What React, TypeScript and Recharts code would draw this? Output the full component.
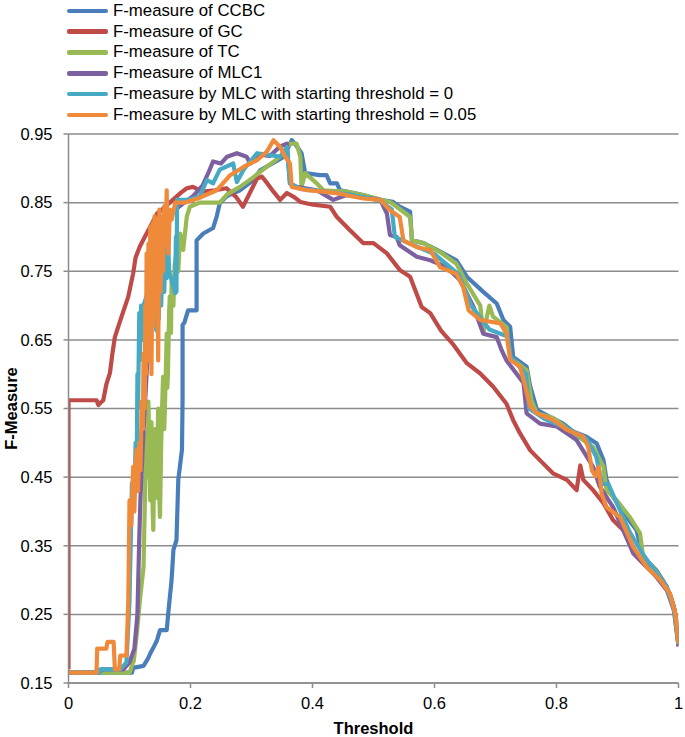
import { LineChart, Line, XAxis, YAxis, CartesianGrid } from 'recharts';

// [threshold, f-measure]
const ccbc: [number, number][] = [
  [0, 0.165], [0.104, 0.165], [0.106, 0.172], [0.123, 0.175], [0.13, 0.185], [0.134, 0.193],
  [0.14, 0.203], [0.145, 0.212], [0.15, 0.227], [0.161, 0.227], [0.164, 0.256], [0.169, 0.3],
  [0.172, 0.344], [0.177, 0.358], [0.18, 0.446], [0.186, 0.49], [0.187, 0.562], [0.187, 0.672],
  [0.19, 0.675], [0.196, 0.693], [0.21, 0.693], [0.21, 0.795], [0.221, 0.805], [0.237, 0.813],
  [0.243, 0.83], [0.248, 0.849], [0.259, 0.859], [0.281, 0.868], [0.303, 0.883], [0.314, 0.897],
  [0.33, 0.905], [0.35, 0.915], [0.36, 0.93], [0.366, 0.941], [0.372, 0.935], [0.382, 0.922],
  [0.388, 0.893], [0.412, 0.89], [0.423, 0.89], [0.429, 0.878], [0.44, 0.878], [0.445, 0.868],
  [0.456, 0.866], [0.483, 0.861], [0.511, 0.854], [0.532, 0.851], [0.543, 0.844], [0.56, 0.837],
  [0.563, 0.795], [0.582, 0.791], [0.604, 0.781], [0.636, 0.766], [0.653, 0.742], [0.68, 0.72],
  [0.702, 0.703], [0.713, 0.679], [0.724, 0.669], [0.729, 0.625], [0.751, 0.611], [0.757, 0.582],
  [0.768, 0.548], [0.789, 0.538], [0.811, 0.528], [0.828, 0.516], [0.849, 0.509], [0.866, 0.499],
  [0.877, 0.475], [0.882, 0.446], [0.893, 0.421], [0.915, 0.392], [0.931, 0.373], [0.942, 0.334],
  [0.964, 0.314], [0.981, 0.29], [0.991, 0.266], [0.997, 0.24], [1, 0.207],
];

const gc: [number, number][] = [
  [0, 0.17], [0, 0.562], [0.046, 0.562], [0.049, 0.555], [0.052, 0.558], [0.057, 0.562],
  [0.062, 0.585], [0.068, 0.602], [0.072, 0.63], [0.076, 0.654], [0.087, 0.684], [0.098, 0.713],
  [0.106, 0.747], [0.11, 0.77], [0.117, 0.786], [0.125, 0.8], [0.134, 0.815], [0.145, 0.834],
  [0.16, 0.845], [0.171, 0.854], [0.185, 0.865], [0.194, 0.871], [0.204, 0.873], [0.22, 0.866],
  [0.24, 0.868], [0.259, 0.871], [0.275, 0.858], [0.286, 0.844], [0.295, 0.86], [0.309, 0.885],
  [0.317, 0.888], [0.326, 0.878], [0.336, 0.866], [0.347, 0.854], [0.358, 0.864], [0.37, 0.858],
  [0.38, 0.851], [0.401, 0.847], [0.429, 0.844], [0.44, 0.829], [0.461, 0.81], [0.483, 0.791],
  [0.5, 0.791], [0.522, 0.776], [0.543, 0.752], [0.56, 0.742], [0.579, 0.698], [0.593, 0.689],
  [0.611, 0.663], [0.631, 0.643], [0.653, 0.616], [0.675, 0.601], [0.696, 0.582], [0.718, 0.557],
  [0.729, 0.533], [0.74, 0.514], [0.757, 0.489], [0.778, 0.47], [0.795, 0.455], [0.817, 0.446],
  [0.833, 0.431], [0.839, 0.467], [0.844, 0.446], [0.86, 0.431], [0.877, 0.412], [0.893, 0.387],
  [0.915, 0.368], [0.926, 0.339], [0.948, 0.319], [0.97, 0.3], [0.986, 0.28], [0.994, 0.256],
  [1, 0.203],
];

const tc: [number, number][] = [
  [0, 0.165], [0.1, 0.165], [0.104, 0.175], [0.107, 0.182], [0.112, 0.222], [0.117, 0.27],
  [0.123, 0.319], [0.126, 0.45], [0.128, 0.514], [0.13, 0.45], [0.131, 0.56], [0.133, 0.47],
  [0.134, 0.416], [0.136, 0.53], [0.138, 0.4], [0.139, 0.373], [0.141, 0.5], [0.142, 0.52],
  [0.144, 0.42], [0.145, 0.465], [0.147, 0.55], [0.148, 0.44], [0.15, 0.392], [0.152, 0.5],
  [0.153, 0.538], [0.155, 0.596], [0.157, 0.52], [0.158, 0.55], [0.16, 0.62], [0.161, 0.659],
  [0.162, 0.58], [0.163, 0.6], [0.165, 0.69], [0.166, 0.713], [0.168, 0.66], [0.169, 0.737],
  [0.172, 0.7], [0.174, 0.76], [0.177, 0.776], [0.18, 0.75], [0.183, 0.805], [0.188, 0.781],
  [0.194, 0.83], [0.199, 0.844], [0.215, 0.85], [0.248, 0.85], [0.26, 0.862], [0.281, 0.873],
  [0.3, 0.885], [0.319, 0.898], [0.347, 0.917], [0.363, 0.936], [0.374, 0.936], [0.38, 0.917],
  [0.382, 0.873], [0.388, 0.893], [0.407, 0.878], [0.418, 0.868], [0.456, 0.866], [0.483, 0.861],
  [0.527, 0.851], [0.538, 0.844], [0.56, 0.829], [0.563, 0.795], [0.582, 0.791], [0.609, 0.778],
  [0.636, 0.761], [0.653, 0.732], [0.675, 0.7], [0.68, 0.66], [0.69, 0.7], [0.696, 0.684],
  [0.718, 0.669], [0.724, 0.625], [0.751, 0.606], [0.759, 0.562], [0.768, 0.543], [0.795, 0.536],
  [0.828, 0.514], [0.86, 0.494], [0.877, 0.465], [0.882, 0.431], [0.899, 0.416], [0.92, 0.392],
  [0.937, 0.368], [0.942, 0.334], [0.964, 0.312], [0.981, 0.288], [0.991, 0.264], [1, 0.205],
];

const mlc1: [number, number][] = [
  [0, 0.165], [0.05, 0.165], [0.055, 0.17], [0.09, 0.17], [0.1, 0.18], [0.108, 0.2],
  [0.113, 0.25], [0.116, 0.36], [0.118, 0.42], [0.122, 0.5], [0.128, 0.6], [0.134, 0.7],
  [0.14, 0.76], [0.15, 0.8], [0.16, 0.83], [0.175, 0.84], [0.19, 0.85], [0.205, 0.86],
  [0.22, 0.875], [0.23, 0.895], [0.237, 0.91], [0.25, 0.907], [0.26, 0.917], [0.276, 0.922],
  [0.292, 0.917], [0.298, 0.907], [0.314, 0.92], [0.33, 0.918], [0.347, 0.932], [0.358, 0.936],
  [0.363, 0.878], [0.374, 0.873], [0.407, 0.868], [0.434, 0.854], [0.456, 0.861], [0.511, 0.854],
  [0.522, 0.834], [0.527, 0.803], [0.538, 0.8], [0.543, 0.788], [0.571, 0.771], [0.593, 0.766],
  [0.62, 0.756], [0.642, 0.737], [0.664, 0.698], [0.68, 0.659], [0.702, 0.654], [0.71, 0.635],
  [0.718, 0.62], [0.746, 0.587], [0.751, 0.543], [0.773, 0.528], [0.8, 0.524], [0.833, 0.504],
  [0.86, 0.465], [0.871, 0.436], [0.893, 0.406], [0.926, 0.339], [0.959, 0.31], [0.981, 0.285],
  [0.993, 0.255], [1, 0.204],
];

const mlcStart0: [number, number][] = [
  [0, 0.165], [0.05, 0.165], [0.052, 0.17], [0.085, 0.17], [0.095, 0.18], [0.1, 0.27],
  [0.104, 0.441], [0.108, 0.42], [0.11, 0.5], [0.112, 0.49], [0.113, 0.6], [0.114, 0.55],
  [0.116, 0.689], [0.117, 0.62], [0.119, 0.7], [0.121, 0.65], [0.123, 0.7], [0.13, 0.72],
  [0.14, 0.7], [0.144, 0.664], [0.146, 0.74], [0.148, 0.68], [0.15, 0.795], [0.152, 0.7],
  [0.155, 0.8], [0.157, 0.72], [0.159, 0.805], [0.161, 0.74], [0.163, 0.8], [0.165, 0.75],
  [0.175, 0.718], [0.176, 0.8], [0.177, 0.72], [0.178, 0.854], [0.195, 0.854], [0.215, 0.859],
  [0.227, 0.883], [0.237, 0.878], [0.248, 0.898], [0.27, 0.907], [0.276, 0.88], [0.287, 0.898],
  [0.309, 0.922], [0.347, 0.917], [0.358, 0.931], [0.363, 0.878], [0.38, 0.87], [0.42, 0.866],
  [0.46, 0.862], [0.51, 0.853], [0.53, 0.84], [0.535, 0.8], [0.56, 0.79], [0.6, 0.775],
  [0.64, 0.745], [0.66, 0.7], [0.69, 0.665], [0.72, 0.655], [0.725, 0.625], [0.75, 0.6],
  [0.755, 0.55], [0.78, 0.535], [0.82, 0.52], [0.85, 0.505], [0.865, 0.48], [0.875, 0.44],
  [0.885, 0.44], [0.9, 0.41], [0.92, 0.37], [0.94, 0.34], [0.96, 0.315], [0.98, 0.29],
  [0.993, 0.258], [1, 0.206],
];

const mlcStart005: [number, number][] = [
  [0, 0.165], [0.046, 0.165], [0.047, 0.2], [0.062, 0.2], [0.064, 0.21], [0.074, 0.21],
  [0.076, 0.17], [0.083, 0.17], [0.085, 0.19], [0.095, 0.19], [0.098, 0.27], [0.1, 0.416],
  [0.103, 0.38], [0.106, 0.465], [0.108, 0.4], [0.11, 0.47], [0.112, 0.49], [0.114, 0.43],
  [0.116, 0.5], [0.118, 0.46], [0.12, 0.56], [0.122, 0.52], [0.123, 0.63], [0.125, 0.55],
  [0.126, 0.7], [0.127, 0.6], [0.128, 0.776], [0.13, 0.62], [0.131, 0.79], [0.133, 0.66],
  [0.134, 0.815], [0.136, 0.6], [0.138, 0.82], [0.139, 0.67], [0.141, 0.83], [0.143, 0.7],
  [0.145, 0.825], [0.147, 0.62], [0.149, 0.84], [0.151, 0.72], [0.153, 0.83], [0.155, 0.75],
  [0.157, 0.845], [0.159, 0.79], [0.161, 0.868], [0.162, 0.8], [0.164, 0.776], [0.166, 0.84],
  [0.169, 0.825], [0.175, 0.85], [0.19, 0.85], [0.212, 0.856], [0.243, 0.868], [0.265, 0.89],
  [0.287, 0.902], [0.309, 0.912], [0.325, 0.924], [0.336, 0.941], [0.347, 0.931], [0.355, 0.917],
  [0.363, 0.907], [0.366, 0.873], [0.391, 0.868], [0.418, 0.866], [0.445, 0.863], [0.483, 0.856],
  [0.511, 0.854], [0.527, 0.839], [0.543, 0.829], [0.549, 0.795], [0.571, 0.785], [0.593, 0.781],
  [0.609, 0.756], [0.636, 0.746], [0.647, 0.727], [0.656, 0.693], [0.675, 0.679], [0.708, 0.674],
  [0.718, 0.659], [0.724, 0.621], [0.74, 0.611], [0.746, 0.592], [0.757, 0.553], [0.768, 0.543],
  [0.795, 0.533], [0.817, 0.519], [0.844, 0.509], [0.852, 0.494], [0.858, 0.46], [0.864, 0.451],
  [0.869, 0.465], [0.874, 0.426], [0.882, 0.406], [0.904, 0.392], [0.926, 0.348], [0.948, 0.319],
  [0.97, 0.3], [0.986, 0.28], [0.995, 0.25], [1, 0.207],
];

const xTicks = [0, 0.2, 0.4, 0.6, 0.8, 1];
const yTicks = [0.15, 0.25, 0.35, 0.45, 0.55, 0.65, 0.75, 0.85, 0.95];

const series = [
  { name: 'F-measure of CCBC', color: '#4A7EBB', points: ccbc },
  { name: 'F-measure of GC', color: '#BE4B48', points: gc },
  { name: 'F-measure of TC', color: '#98B954', points: tc },
  { name: 'F-measure of MLC1', color: '#7D60A0', points: mlc1 },
  { name: 'F-measure by MLC with starting threshold = 0', color: '#46AAC5', points: mlcStart0 },
  { name: 'F-measure by MLC with starting threshold = 0.05', color: '#F08A3B', points: mlcStart005 },
];

const FONT = '"Liberation Sans", Arial, sans-serif';
const GRID = '#8c8c8c';

export default function App() {
  return (
    <div style={{ position: 'absolute', left: 0, top: 0, width: 685, height: 737, background: '#fff', fontFamily: FONT }}>
      <div style={{ position: 'absolute', left: 67, top: 0.5 }}>
        {series.map((s) => (
          <div key={s.name} style={{ display: 'flex', alignItems: 'center', height: 20.8 }}>
            <span style={{ display: 'inline-block', width: 41, height: 4.5, borderRadius: 2, background: s.color, marginRight: 5 }} />
            <span style={{ fontSize: 16.8, color: '#000', whiteSpace: 'nowrap', lineHeight: '20px' }}>{s.name}</span>
          </div>
        ))}
      </div>
      <LineChart width={685} height={737} margin={{ top: 134, right: 6.5, bottom: 0, left: 0 }}>
        <CartesianGrid vertical={false} stroke={GRID} strokeWidth={1.5} />
        <XAxis
          type="number"
          dataKey="x"
          domain={[0, 1]}
          ticks={xTicks}
          allowDataOverflow
          height={54}
          stroke={GRID}
          strokeWidth={1.5}
          tickSize={5}
          tickMargin={9}
          tickFormatter={(v: number) => String(v)}
          tick={{ fontSize: 16.5, fill: '#000', fontFamily: FONT }}
          label={{
            content: ({ viewBox }: any) => (
              <text
                x={viewBox.x + viewBox.width / 2}
                y={viewBox.y + 45}
                textAnchor="middle"
                dominantBaseline="central"
                fontSize={16.5}
                fontWeight={700}
                fontFamily={FONT}
                fill="#000"
              >
                Threshold
              </text>
            ),
          }}
        />
        <YAxis
          type="number"
          dataKey="y"
          domain={[0.15, 0.95]}
          ticks={yTicks}
          allowDataOverflow
          width={68.5}
          stroke={GRID}
          strokeWidth={1.5}
          tickSize={5}
          tickMargin={11}
          tickFormatter={(v: number) => v.toFixed(2)}
          tick={{ fontSize: 16.5, fill: '#000', fontFamily: FONT }}
          label={{
            content: ({ viewBox }: any) => {
              const cx = viewBox.x + 11;
              const cy = viewBox.y + viewBox.height / 2;
              return (
                <text
                  x={cx}
                  y={cy}
                  transform={`rotate(-90 ${cx} ${cy})`}
                  textAnchor="middle"
                  dominantBaseline="central"
                  fontSize={16.5}
                  fontWeight={700}
                  fontFamily={FONT}
                  fill="#000"
                >
                  F-Measure
                </text>
              );
            },
          }}
        />
        {series.map((s) => (
          <Line
            key={s.name}
            data={s.points.map(([x, y]) => ({ x, y }))}
            dataKey="y"
            name={s.name}
            type="linear"
            stroke={s.color}
            strokeWidth={4.2}
            strokeLinejoin="round"
            dot={false}
            activeDot={false}
            isAnimationActive={false}
          />
        ))}
      </LineChart>
    </div>
  );
}
